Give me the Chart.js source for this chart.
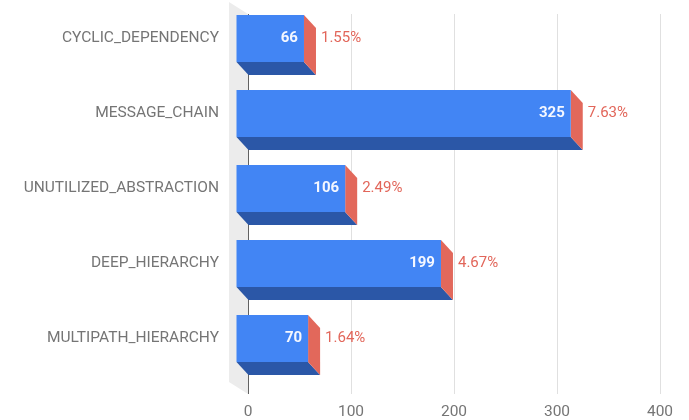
<!DOCTYPE html>
<html>
<head>
<meta charset="utf-8">
<script src="https://cdn.jsdelivr.net/npm/chart.js@4"></script>
<style>
  body { margin: 0; background: #fff; }
  #myChart { display: block; }
</style>
</head>
<body>
<canvas id="myChart" width="689" height="420"></canvas>
<script>
// data
var categories = ["CYCLIC_DEPENDENCY", "MESSAGE_CHAIN", "UNUTILIZED_ABSTRACTION", "DEEP_HIERARCHY", "MULTIPATH_HIERARCHY"];
var counts = [66, 325, 106, 199, 70];
var percents = ["1.55%", "7.63%", "2.49%", "4.67%", "1.64%"];
var xTicks = [0, 100, 200, 300, 400];

var frontColor = "#4285f4";
var bottomColor = "#2b57a7";
var sideColor = "#e2685b";
var pctColor = "#e2665a";
var depthX = 12, depthY = 13;

// fake 3d: wall + bottom/side faces, front face is the real bar shifted
var bar3d = {
  id: "bar3d",
  beforeDraw(chart) {
    const ctx = chart.ctx;
    const area = chart.chartArea;
    const zero = chart.scales.x.getPixelForValue(0);
    ctx.save();
    ctx.fillStyle = "#ececec";
    ctx.beginPath();
    ctx.moveTo(zero - 19, area.top - 12);
    ctx.lineTo(zero, area.top);
    ctx.lineTo(zero, area.bottom + 5);
    ctx.lineTo(zero - 19, area.bottom - 7);
    ctx.closePath();
    ctx.fill();
    ctx.restore();
  },
  beforeDatasetsDraw(chart) {
    const ctx = chart.ctx;
    const meta = chart.getDatasetMeta(0);
    ctx.save();
    meta.data.forEach(bar => {
      const x0 = bar.base, x1 = bar.x;
      const t = bar.y - bar.height / 2, b = bar.y + bar.height / 2;
      // bottom face
      ctx.fillStyle = bottomColor;
      ctx.beginPath();
      ctx.moveTo(x0 - depthX, b - depthY);
      ctx.lineTo(x1 - depthX, b - depthY);
      ctx.lineTo(x1, b);
      ctx.lineTo(x0, b);
      ctx.closePath();
      ctx.fill();
      // side face
      ctx.fillStyle = sideColor;
      ctx.beginPath();
      ctx.moveTo(x1 - depthX, t - depthY);
      ctx.lineTo(x1, t);
      ctx.lineTo(x1, b);
      ctx.lineTo(x1 - depthX, b - depthY);
      ctx.closePath();
      ctx.fill();
    });
    ctx.restore();
    ctx.save();
    ctx.translate(-depthX, -depthY);
  },
  afterDatasetsDraw(chart) {
    const ctx = chart.ctx;
    ctx.restore();
    const meta = chart.getDatasetMeta(0);
    ctx.save();
    ctx.textBaseline = "middle";
    meta.data.forEach((bar, i) => {
      const cy = bar.y - depthY;
      ctx.font = "bold 15px Roboto";
      ctx.fillStyle = "#f4f7ff";
      ctx.textAlign = "right";
      ctx.fillText(String(counts[i]), bar.x - depthX - 6, cy);
      ctx.font = "15px Roboto";
      ctx.fillStyle = pctColor;
      ctx.textAlign = "left";
      ctx.fillText(percents[i], bar.x + 5, cy);
    });
    ctx.restore();
  }
};

new Chart("myChart", {
  type: "bar",
  data: {
    labels: categories,
    datasets: [{
      data: counts,
      backgroundColor: frontColor,
      borderWidth: 0,
      categoryPercentage: 1,
      barPercentage: 0.627
    }]
  },
  plugins: [bar3d],
  options: {
    indexAxis: "y",
    responsive: false,
    animation: false,
    devicePixelRatio: 1,
    layout: { padding: { top: 14, right: 29, left: 0, bottom: 0 } },
    plugins: {
      legend: { display: false },
      tooltip: { enabled: false }
    },
    scales: {
      x: {
        min: xTicks[0],
        max: xTicks[xTicks.length - 1],
        afterBuildTicks: (s) => { s.ticks = xTicks.map(v => ({ value: v })); },
        afterFit: (s) => { s.height = 31; },
        border: { display: false },
        grid: {
          color: (c) => c.tick && c.tick.value === 0 ? "#616161" : "#e0e0e0",
          tickLength: 5
        },
        ticks: {
          padding: 9,
          color: "#757575",
          font: { family: "Roboto", size: 15.5 }
        }
      },
      y: {
        afterFit: (s) => { s.width = 248; },
        border: { display: false },
        grid: { display: false, drawTicks: true, tickLength: 26 },
        ticks: {
          padding: 3,
          labelOffset: -depthY,
          color: "#757575",
          font: { family: "Roboto", size: 15.5 }
        }
      }
    }
  }
});
</script>
</body>
</html>
